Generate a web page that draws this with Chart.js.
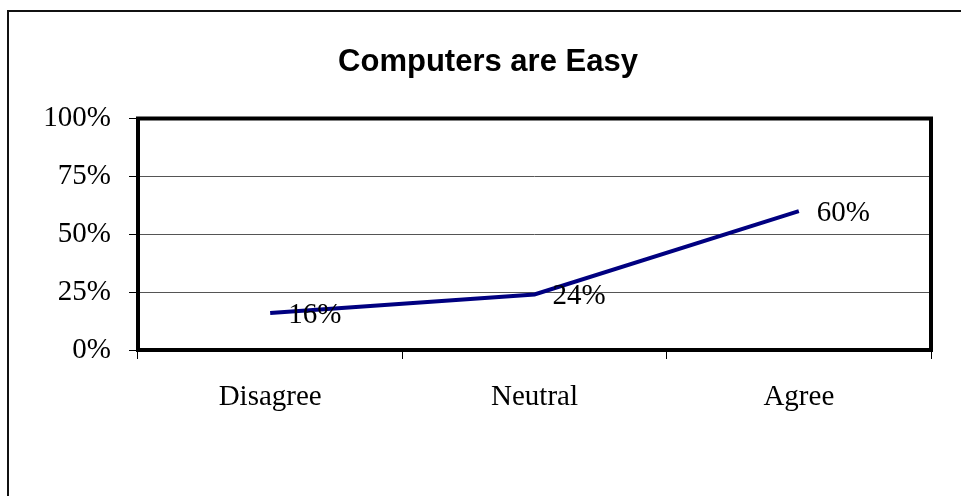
<!DOCTYPE html>
<html>
<head>
<meta charset="utf-8">
<title>Computers are Easy</title>
<script src="https://cdn.jsdelivr.net/npm/chart.js@4.4.1/dist/chart.umd.min.js"></script>
<style>
    html, body {
        margin: 0;
        padding: 0;
        width: 961px;
        height: 496px;
        overflow: hidden;
        background: #fff;
    }
    #frame {
        position: absolute;
        left: 7px;
        top: 10px;
        width: 1000px;
        height: 600px;
        border-left: 2px solid #111;
        border-top: 2px solid #111;
    }
    #myChart {
        position: absolute;
        left: 0;
        top: 0;
    }
</style>
</head>
<body>
<div id="frame"></div>
<canvas id="myChart" width="976" height="496"></canvas>
<script>
const categories = ["Disagree", "Neutral", "Agree"];
const easyValues = [16, 24, 60];
const yTicks = [0, 25, 50, 75, 100];

const serif = "'Liberation Serif', 'Times New Roman', serif";

// percent labels next to each point
const pointLabels = {
    id: "pointLabels",
    afterDatasetsDraw: (chart) => {
        const ctx = chart.ctx;
        const meta = chart.getDatasetMeta(0);
        ctx.save();
        ctx.font = "29px " + serif;
        ctx.fillStyle = "#000";
        ctx.textAlign = "left";
        ctx.textBaseline = "middle";
        meta.data.forEach((pt, i) => {
            ctx.fillText(easyValues[i] + "%", pt.x + 18, pt.y + 2);
        });
        ctx.restore();
    }
};

// thick box round the plot area
const plotBox = {
    id: "plotBox",
    beforeDatasetsDraw: (chart) => {
        const a = chart.chartArea;
        const ctx = chart.ctx;
        ctx.save();
        ctx.strokeStyle = "#000";
        ctx.lineWidth = 4;
        ctx.strokeRect(a.left, a.top, a.right - a.left, a.bottom - a.top);
        ctx.restore();
    }
};

const ctx = document.getElementById("myChart").getContext("2d");
new Chart(ctx, {
    type: "line",
    data: {
        labels: categories,
        datasets: [{
            data: easyValues,
            borderColor: "#000080",
            backgroundColor: "#000080",
            borderWidth: 4,
            tension: 0,
            fill: false,
            pointRadius: 0,
            pointHoverRadius: 0
        }]
    },
    options: {
        responsive: false,
        animation: false,
        devicePixelRatio: 1,
        layout: { padding: { top: 0, left: 45, right: 45, bottom: 0 } },
        plugins: {
            legend: { display: false },
            tooltip: { enabled: false },
            title: {
                display: true,
                text: "Computers are Easy",
                color: "#000",
                font: { family: "'Liberation Sans', Arial, sans-serif", size: 31, weight: "bold", lineHeight: 1.2 },
                padding: { top: 44, bottom: 37.3 }
            }
        },
        scales: {
            x: {
                offset: true,
                border: { display: false },
                grid: {
                    offset: true,
                    drawOnChartArea: false,
                    drawTicks: true,
                    tickLength: 9,
                    tickColor: "#000",
                    color: "#000"
                },
                ticks: {
                    color: "#000",
                    padding: 21,
                    font: { family: serif, size: 29 }
                },
                afterFit: (scale) => { scale.height = 146; }
            },
            y: {
                min: 0,
                max: 100,
                border: { display: false },
                grid: {
                    color: "#555",
                    tickColor: "#000",
                    tickLength: 9
                },
                afterBuildTicks: (scale) => {
                    scale.ticks = yTicks.map(v => ({ value: v }));
                },
                ticks: {
                    color: "#000",
                    padding: 18,
                    font: { family: serif, size: 29 },
                    callback: (v) => v + "%"
                },
                afterFit: (scale) => { scale.width = 93; }
            }
        }
    },
    plugins: [plotBox, pointLabels]
});
</script>
</body>
</html>
